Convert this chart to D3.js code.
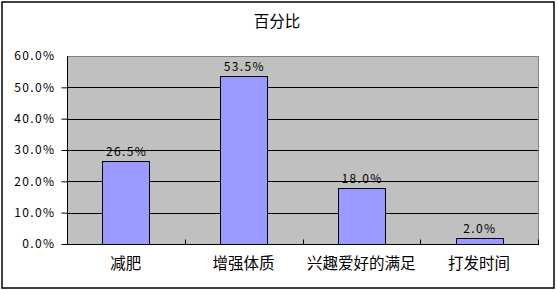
<!DOCTYPE html>
<meta charset="utf-8">
<script src="https://cdn.jsdelivr.net/npm/d3@7"></script>
<style>
  body { margin: 0; background: #fff; }
  text { font-family: "SimSun", "Noto Sans CJK SC", sans-serif; }
</style>
<body>
<div id="chart"></div>
<script>

// data
var categories = ["减肥", "增强体质", "兴趣爱好的满足", "打发时间"]
var values = [26.5, 53.5, 18.0, 2.0]
var yTicks = [0, 10, 20, 30, 40, 50, 60]

var width = 557, height = 290
var plotLeft = 67, plotRight = 538, plotTop = 56, plotBottom = 244

var svg = d3.select("#chart").append("svg")
  .attr("width", width)
  .attr("height", height)

// outer border
svg.append("rect")
  .attr("x", 2).attr("y", 2)
  .attr("width", 552).attr("height", 286)
  .attr("fill", "white")
  .attr("stroke", "black")
  .attr("stroke-width", 1.5)

svg.append("text")
  .attr("x", 277).attr("y", 27)
  .attr("text-anchor", "middle")
  .style("font-size", "15.5px")
  .text("百分比")

var x = d3.scaleBand()
  .domain(categories)
  .range([plotLeft, plotRight])
  .paddingInner(0.6)
  .paddingOuter(0.3)

var xb = d3.scaleBand().domain(categories).range([plotLeft, plotRight])

var y = d3.scaleLinear().domain([0, 60]).range([plotBottom, plotTop])

// plot area
svg.append("rect")
  .attr("x", plotLeft + 0.5).attr("y", plotTop + 0.5)
  .attr("width", plotRight - plotLeft).attr("height", plotBottom - plotTop)
  .attr("fill", "#c0c0c0")
  .attr("stroke", "#808080")

// gridlines
svg.append("g").selectAll("line")
  .data(yTicks.filter(function(d) { return d > 0 && d < 60 }))
  .enter().append("line")
  .attr("x1", plotLeft).attr("x2", plotRight)
  .attr("y1", function(d) { return Math.round(y(d)) + 0.5 })
  .attr("y2", function(d) { return Math.round(y(d)) + 0.5 })
  .attr("stroke", "black")

// bars
svg.append("g").selectAll("rect")
  .data(values)
  .enter().append("rect")
  .attr("x", function(d, i) { return Math.round(x(categories[i])) + 0.5 })
  .attr("y", function(d) { return Math.round(y(d)) + 0.5 })
  .attr("width", Math.round(x.bandwidth()))
  .attr("height", function(d) { return plotBottom - Math.round(y(d)) })
  .attr("fill", "#9999ff")
  .attr("stroke", "black")

// bar labels
svg.append("g").selectAll("text")
  .data(values)
  .enter().append("text")
  .attr("x", function(d, i) { return x(categories[i]) + x.bandwidth() / 2 + 0.7 })
  .attr("y", function(d) { return y(d) - 5 })
  .attr("text-anchor", "middle")
  .style("font-size", "12px")
  .style("letter-spacing", "1.4px")
  .text(function(d) { return d.toFixed(1) + "%" })

// y axis
var yAxis = svg.append("g")
  .attr("transform", "translate(" + (plotLeft + 0.5) + ",0)")
  .call(d3.axisLeft(y).tickValues(yTicks).tickSize(6).tickPadding(6)
    .tickFormat(function(d) { return d.toFixed(1) + "%" }))
yAxis.select(".domain").attr("stroke", "black").attr("d", "M0," + plotTop + "V" + plotBottom)
yAxis.selectAll("text").style("font-size", "12px").style("letter-spacing", "1.4px")
  .style("font-family", '"SimSun", "Noto Sans CJK SC", sans-serif').attr("fill", "black")
yAxis.selectAll(".tick line").attr("stroke", "black")
yAxis.selectAll(".tick").filter(function(d) { return d === 60 }).select("line").remove()

// x axis
var xAxis = svg.append("g")
  .attr("transform", "translate(0," + (plotBottom + 0.5) + ")")
xAxis.append("line")
  .attr("x1", plotLeft).attr("x2", plotRight + 1)
  .attr("stroke", "black")
xAxis.selectAll("line.t")
  .data(categories)
  .enter().append("line")
  .attr("class", "t")
  .attr("x1", function(d) { return Math.round(xb(d) + xb.step()) + 0.5 })
  .attr("x2", function(d) { return Math.round(xb(d) + xb.step()) + 0.5 })
  .attr("y1", 0).attr("y2", -5)
  .attr("stroke", "black")
xAxis.selectAll("text")
  .data(categories)
  .enter().append("text")
  .attr("x", function(d) { return x(d) + x.bandwidth() / 2 })
  .attr("y", 24)
  .attr("text-anchor", "middle")
  .style("font-size", "15.5px")
  .text(function(d) { return d })

</script>
</body>
